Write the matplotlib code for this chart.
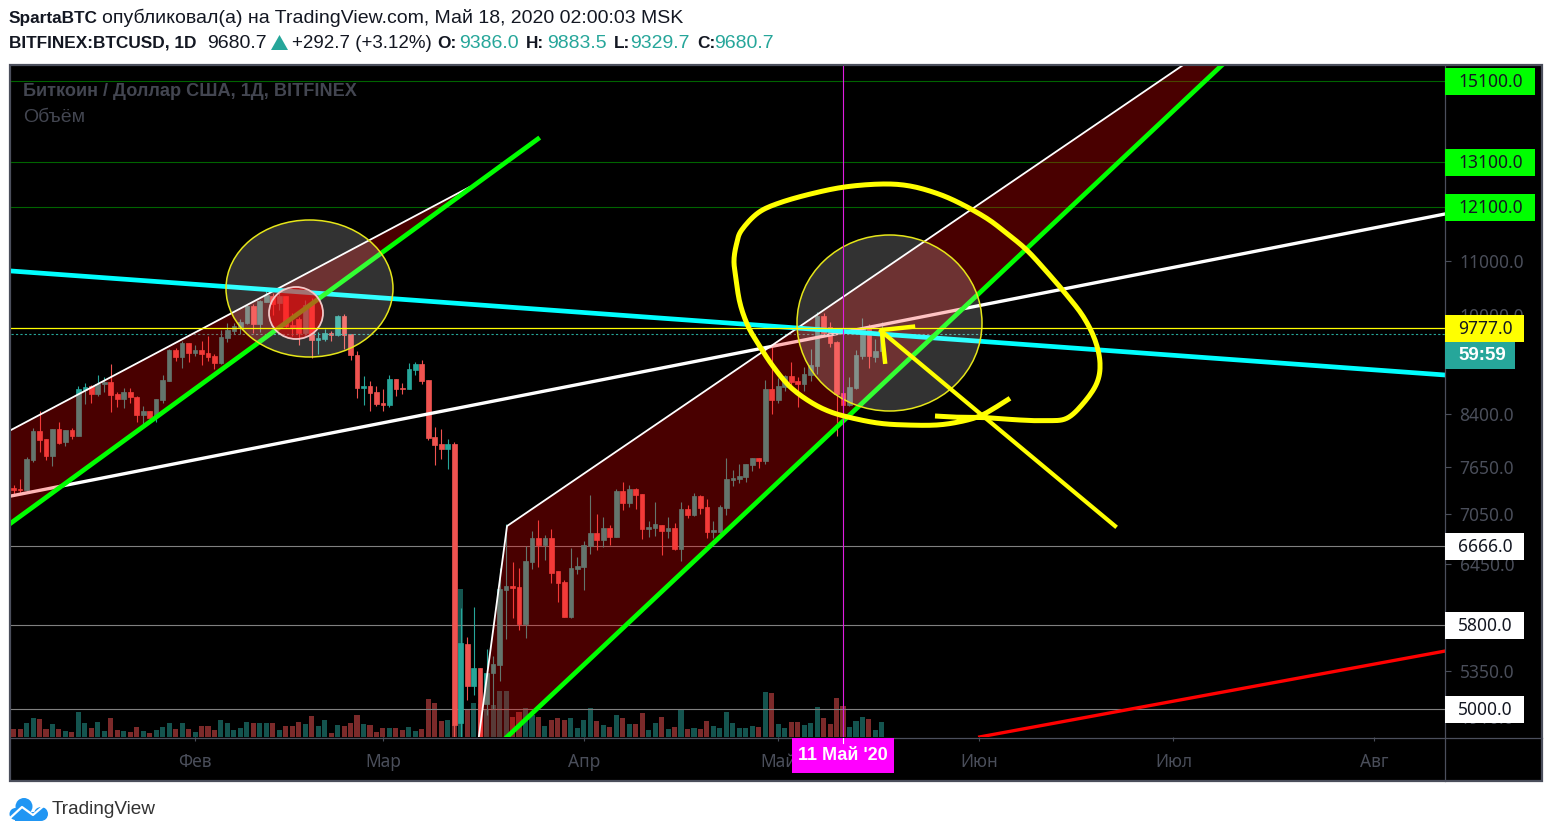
# -*- coding: utf-8 -*-
import numpy as np
import matplotlib
matplotlib.use('Agg')
import matplotlib.pyplot as plt
from matplotlib.patches import Rectangle, Ellipse, Polygon, Circle
from matplotlib.lines import Line2D
from matplotlib.transforms import Affine2D, IdentityTransform

# BTCUSD daily candles, day number counted from 1 Feb 2020
days = np.arange(-28, 107)
opens = [7376, 7367, 7350, 7748, 8155, 8041, 7806, 8184, 7998, 8169,
         8084, 8766, 8829, 8704, 8860, 8891, 8704, 8628, 8735, 8658,
         8388, 8447, 8364, 8612, 8906, 9407, 9291, 9523,
         9357, 9407, 9357, 9307, 9193, 9608, 9727, 9795, 9865, 10165,
         9848, 10237, 10343, 10213, 10343, 9830, 9934, 9687, 10195, 9574,
         9585, 9693, 9659, 9986, 9676, 9323, 8797, 8829, 8735, 8568,
         8537, 8938, 8797, 8782, 9081, 9177, 8922, 8070, 7972, 7902,
         7972, 4879, 5610, 5207, 5378, 5042, 5328, 5404, 6164, 6208,
         6197, 5806, 6479, 6755, 6672, 6755, 6374, 6251, 5881, 6397,
         6423, 6661, 6815, 6731, 6875, 6767, 7336, 7185, 7364, 7300,
         6863, 6875, 6912, 6839, 6875, 6626, 7110, 7035, 7274, 7135,
         6827, 6832, 7126, 7482, 7495, 7522, 7682, 7778, 7736, 8782,
         8614, 8818, 8986, 8907, 8860, 9002, 9146, 9988, 9790, 9541,
         8721, 8538, 8793, 9308, 9762, 9292, 9386]
highs = [7415, 7502, 7785, 8207, 8447, 8041, 8184, 8281, 8169, 8193,
         8829, 8870, 8844, 9001, 8964, 9177, 8740, 8792, 8792, 8674,
         8522, 8447, 8628, 9001, 9418, 9434, 9562, 9523,
         9489, 9557, 9642, 9340, 9744, 9859, 9859, 9930, 10183, 10201,
         10273, 10486, 10393, 10393, 10343, 10034, 9976, 10273, 10303, 9716,
         9756, 9727, 10004, 10022, 9676, 9390, 8985, 8906, 8829, 8782,
         9001, 8938, 8880, 9193, 9209, 9241, 8922, 8212, 8186, 8043,
         8005, 5968, 5674, 5982, 5378, 5561, 5487, 6404, 6924, 6479,
         6404, 6661, 6835, 6973, 6791, 6863, 6374, 6273, 6634, 6536,
         6720, 7287, 7047, 7010, 6912, 7360, 7456, 7417, 7382, 7300,
         6961, 7198, 6912, 7014, 6937, 7198, 7160, 7308, 7287, 7236,
         6961, 7165, 7773, 7614, 7696, 7696, 7778, 7778, 8923, 9463,
         8950, 8997, 9211, 8965, 9135, 9423, 10054, 10036, 9888, 9558,
         8726, 8976, 9407, 9947, 9846, 9590, 9883.5]
lows = [7306, 7315, 7336, 7725, 7863, 7748, 7672, 7979, 7942, 8036,
        8084, 8552, 8563, 8674, 8740, 8433, 8502, 8492, 8563, 8281,
        8242, 8330, 8281, 8571, 8900, 9225, 9110, 9209,
        9307, 9161, 9225, 9097, 9177, 9545, 9676, 9676, 9848, 9687,
        9716, 10237, 9996, 10093, 9801, 9642, 9489, 9659, 9280, 9340,
        9557, 9557, 9642, 9423, 9241, 8642, 8537, 8447, 8522, 8447,
        8507, 8674, 8704, 8782, 9001, 8860, 8027, 7680, 7764, 7629,
        3850, 4600, 5078, 5122, 4700, 4946, 5004, 5253, 5654, 5871,
        5751, 5667, 6397, 6423, 6498, 6244, 6039, 5878, 5871, 6344,
        6164, 6568, 6614, 6653, 6672, 6767, 7097, 7135, 7110, 6743,
        6767, 6783, 6557, 6755, 6614, 6487, 6998, 7022, 7047, 6755,
        6751, 6812, 7035, 7407, 7447, 7460, 7601, 7645, 7696, 8404,
        8563, 8752, 8767, 8508, 8752, 8913, 9018, 9659, 9463, 8089,
        8315, 8523, 8782, 9259, 9113, 9216, 9329.7]
closes = [7350, 7350, 7762, 8155, 8027, 7806, 8184, 7993, 8169, 8084,
          8782, 8813, 8704, 8860, 8891, 8689, 8628, 8735, 8658, 8388,
          8447, 8344, 8628, 8922, 9407, 9291, 9523, 9357,
          9407, 9340, 9291, 9193, 9625, 9744, 9813, 9883, 10165, 9848,
          10255, 10362, 10195, 10343, 9813, 9801, 9687, 10183, 9574, 9608,
          9693, 9659, 9986, 9659, 9323, 8797, 8829, 8719, 8552, 8537,
          8938, 8782, 8782, 9097, 9177, 8906, 8055, 7956, 7902, 7972,
          4858, 5620, 5207, 5378, 4754, 5331, 5410, 6175, 6208, 6186,
          5806, 6487, 6755, 6672, 6755, 6355, 6244, 5881, 6408, 6430,
          6672, 6815, 6731, 6875, 6767, 7336, 7185, 7364, 7287, 6863,
          6887, 6924, 6839, 6875, 6626, 7110, 7035, 7274, 7122, 6827,
          6851, 7139, 7495, 7509, 7535, 7696, 7778, 7736, 8782, 8614,
          8829, 8986, 8892, 8865, 9018, 9162, 9988, 9687, 9530, 8706,
          8538, 8808, 9324, 9790, 9308, 9390, 9680.7]
volumes = [25, 25, 43, 58, 55, 25, 40, 25, 19, 16,
           76, 43, 28, 46, 19, 58, 22, 19, 16, 31,
           19, 13, 22, 31, 43, 25, 43, 25, 16, 34,
           34, 22, 52, 43, 22, 28, 46, 43, 43, 43,
           43, 22, 34, 34, 46, 40, 64, 34, 52, 13,
           37, 34, 43, 67, 40, 37, 16, 28, 28, 28,
           22, 31, 19, 25, 115, 103, 49, 52,
           37, 445, 85, 103, 100, 85, 97, 139, 139, 61,
           76, 88, 67, 61, 34, 52, 58, 52, 58, 28,
           52, 88, 49, 37, 31, 67, 58, 40, 40, 73,
           22, 43, 61, 25, 31, 82, 25, 28, 25, 49,
           34, 28, 76, 43, 28, 28, 34, 31, 136, 133,
           40, 28, 46, 46, 37, 43, 91, 58, 40, 118,
           94, 31, 49, 61, 55, 22, 46]

month_days = [0, 29, 60, 90, 121, 151, 182]
month_labels = ['Фев', 'Мар', 'Апр', 'Май', 'Июн', 'Июл', 'Авг']
axis_prices = [11000, 10000, 8400, 7650, 7050, 6450, 5350]
green_levels = [15100, 13100, 12100]
white_levels = [6666, 5800, 5000]
yellow_level = 9777
last_price = 9680.7

# trend lines, day / price
cyan_days = [-28.4, 192.9]
cyan_prices = [10811, 9002]
white_days = [-28.4, 192.9]
white_prices = [7275, 11952]
red_days = [121.1, 192.9]
red_prices = [4760, 5537]
green1_days = [-28.4, 52.9]
green1_prices = [6937, 13639]
green2_days = [48.15, 158.5]
green2_prices = [4760, 15537]
chan1_days = [-28.4, 42.4, -28.4]
chan1_prices = [8171, 12534, 6937]
chan2_days = [43.8, 48.15, 152.5, 158.5, 48.15]
chan2_prices = [4760, 6900, 15537, 15537, 4760]

# hand drawn marks, in picture pixels
loop_x = [1010, 996.7, 980, 960, 936.7, 906.7, 880, 853.3, 830, 810, 790, 773.3, 760, 748.3,
          740, 735.7, 734, 736.7, 741.7, 758.3, 780, 813.3, 846.7, 883.3, 910, 936.7, 960,
          986.7, 1006.7, 1026.7, 1046.7, 1066.7, 1083.3, 1095, 1100, 1096.7, 1083.3, 1066.7,
          1046.7, 1020, 986.7, 960, 935]
loop_y = [398.3, 406.7, 416, 421.7, 425, 425, 423.3, 418.3, 411.7, 401.7, 386.7, 366.7, 346.7,
          326.7, 303.3, 276.7, 260, 243.3, 230, 212.7, 202.7, 193.3, 186.7, 184, 186, 193.3,
          203.3, 218.3, 233.3, 250, 271.7, 295, 316.7, 340, 363.3, 383.3, 403.3, 418.3, 420.7,
          420, 417.7, 417.3, 416]
arrow_x = [1115, 881]
arrow_y = [526, 331]
head_x = [913, 881.7, 885]
head_y = [326.7, 330, 361.7]

FONT = 'Noto Sans'
HEAD_FONT = 'Liberation Sans'
AXIS_GREY = '#4a4e5a'
FRAME = '#4b4f5c'
UP = '#26a69a'
DOWN = '#ef5350'
BOLD_SIZE = 12.4
TEXT_SIZE = 14


def smooth(xs, ys, steps=8):
    # rounds off the corners of a hand drawn stroke (Catmull-Rom)
    p = np.column_stack([xs, ys])
    p = np.vstack([p[0], p, p[-1]])
    out = []
    for i in range(1, len(p) - 2):
        for t in np.linspace(0, 1, steps, endpoint=False):
            out.append(0.5 * (2 * p[i] + (p[i + 1] - p[i - 1]) * t
                              + (2 * p[i - 1] - 5 * p[i] + 4 * p[i + 1] - p[i + 2]) * t ** 2
                              + (3 * p[i] - p[i - 1] - 3 * p[i + 1] + p[i + 2]) * t ** 3))
    out.append(p[-1])
    out = np.array(out)
    return out[:, 0], out[:, 1]


def label_box(fig, ax, price, text, bg, fg, width):
    y = ax.transData.transform((0, price))[1] - 0.5
    fig.add_artist(Rectangle((1445, y - 13.5), width, 27, transform=IdentityTransform(),
                             fc=bg, ec='none', zorder=5))
    fig.text(1458, y - 0.5, text, transform=IdentityTransform(), color=fg, fontsize=12.5,
             family=FONT, va='center', ha='left', zorder=6)


def header_text(fig, px, x, y, text, color='#131722', bold=False, size=None):
    if size is None:
        size = BOLD_SIZE if bold else TEXT_SIZE
    fig.text(x, y, text, transform=px, color=color, fontsize=size, family=HEAD_FONT,
             va='center', ha='left', fontweight='bold' if bold else 'normal')


def main():
    fig = plt.figure(figsize=(15.52, 8.36), dpi=100, facecolor='white')
    # picture pixels, y going down
    px = Affine2D().scale(1, -1).translate(0, 836)

    fig.add_artist(Rectangle((10, 65), 1532, 716, transform=px, fc='black', ec=FRAME,
                             lw=1.6, zorder=-1))

    pos = [11 / 1552, (836 - 737) / 836, 1434 / 1552, 671 / 836]
    ax_vol = fig.add_axes(pos, zorder=1, facecolor='black')
    ax = fig.add_axes(pos, zorder=2, facecolor='none')

    opn = np.array(opens)
    cls = np.array(closes)
    up = cls >= opn
    colors = np.where(up, UP, DOWN)
    vol_colors = np.where(up, '#14544f', '#7c2a2a')

    ax_vol.bar(days, volumes, width=0.78, color=vol_colors)
    ax_vol.set_xlim(-28.4, 192.9)
    ax_vol.set_ylim(0, 2013)
    ax_vol.axis('off')

    ax.set_yscale('log')
    ax.set_xlim(-28.4, 192.9)
    ax.set_ylim(4759.5, 15509)

    # levels
    for lv in green_levels:
        ax.axhline(lv, color='#006400', lw=0.8, zorder=1)
    for lv in white_levels:
        ax.axhline(lv, color='#808080', lw=0.8, zorder=1)

    # candles
    ax.vlines(days, lows, highs, colors=colors, lw=0.8, zorder=2)
    bottoms = np.minimum(opn, cls)
    heights = np.abs(cls - opn)
    ax.bar(days, heights, bottom=bottoms, width=0.72, color=colors, edgecolor=colors,
           lw=0.5, zorder=2.5)

    ax.plot(white_days, white_prices, color='white', lw=2.4, zorder=3)
    ax.axhline(last_price, color=UP, lw=0.8, ls=(0, (2, 2)), zorder=3)

    # channels on top of the candles
    ax.fill(chan1_days, chan1_prices, color='#ff0000', alpha=0.29, lw=0, zorder=4)
    ax.fill(chan2_days, chan2_prices, color='#ff0000', alpha=0.29, lw=0, zorder=4)

    ax.plot(chan1_days[:2], chan1_prices[:2], color='white', lw=1.3, zorder=5)
    ax.plot(chan2_days[:3], chan2_prices[:3], color='white', lw=1.3, zorder=5)
    ax.plot(cyan_days, cyan_prices, color='#00ffff', lw=3.4, zorder=5)
    ax.plot(green1_days, green1_prices, color='#00ff00', lw=3.4, zorder=5)
    ax.plot(green2_days, green2_prices, color='#00ff00', lw=3.4, zorder=5)
    ax.plot(red_days, red_prices, color='#ff0000', lw=2.4, zorder=5)

    # circles
    ax.add_patch(Ellipse((309.5, 288.5), 167, 137, transform=px, fc=(1, 1, 1, 0.2),
                         ec='#e6e619', lw=1.1, zorder=6))
    ax.add_patch(Ellipse((889.5, 323), 185, 176, transform=px, fc=(1, 1, 1, 0.2),
                         ec='#e6e619', lw=1.1, zorder=6))
    ax.add_patch(Ellipse((296, 313), 54, 52, transform=px, fc=(1, 0, 0, 0.55),
                         ec='#f2c8c8', lw=1.3, zorder=6.5))

    ax.axvline(100, color='#e01ce0', lw=0.8, zorder=7)
    ax.axhline(yellow_level, color='#ffff00', lw=0.9, zorder=9)

    # hand drawn yellow
    sx, sy = smooth(loop_x, loop_y)
    ax.plot(sx, sy, transform=px, color='#ffff00', lw=3.6, solid_joinstyle='round',
            solid_capstyle='butt', zorder=8)
    ax.plot(arrow_x, arrow_y, transform=px, color='#ffff00', lw=3.0, zorder=8)
    ax.plot(head_x, head_y, transform=px, color='#ffff00', lw=3.2, solid_joinstyle='miter',
            zorder=8)

    # axes
    for name in ['top', 'left', 'bottom', 'right']:
        ax.spines[name].set_visible(False)
    ax.yaxis.tick_right()
    ax.minorticks_off()
    ax.set_yticks(axis_prices)
    ax.set_yticklabels(['%.1f' % p for p in axis_prices])
    ax.tick_params(axis='y', which='major', length=4.5, width=0.8, color=AXIS_GREY,
                   labelcolor=AXIS_GREY, labelsize=12.5, pad=6)
    ax.set_xticks(month_days)
    ax.set_xticklabels(month_labels)
    ax.tick_params(axis='x', length=3, width=0.8, color=AXIS_GREY, labelcolor=AXIS_GREY,
                   labelsize=12.5, pad=8.5)
    for t in ax.get_xticklabels() + ax.get_yticklabels():
        t.set_family(FONT)

    fig.add_artist(Line2D([1445, 1445], [66, 781], transform=px, color=FRAME, lw=0.9, zorder=3))
    fig.add_artist(Line2D([11, 1542], [737.5, 737.5], transform=px, color=FRAME, lw=0.9, zorder=3))

    # price labels
    fig.canvas.draw()
    fig.text(1459, 719.5, '1910.0', transform=px, color=AXIS_GREY, fontsize=12.5, family=FONT,
             va='center', ha='left', zorder=4)
    for lv in green_levels:
        label_box(fig, ax, lv, '%.1f' % lv, '#00ff00', '#131722', 90)
    for lv in white_levels:
        label_box(fig, ax, lv, '%.1f' % lv, 'white', '#131722', 79)
    label_box(fig, ax, yellow_level, '%.1f' % yellow_level, '#ffff00', '#131722', 79)
    fig.add_artist(Rectangle((1445, 342), 70, 27, transform=px, fc=UP, ec='none', zorder=5))
    fig.text(1458, 355.5, '59:59', transform=px, color='white', fontsize=13.5, family=HEAD_FONT,
             fontweight='bold', va='center', ha='left', zorder=6)

    # crosshair date
    fig.add_artist(Rectangle((792, 738), 102, 35, transform=px, fc='#ff00ff', ec='none', zorder=5))
    fig.add_artist(Line2D([843, 843], [738, 743], transform=px, color='white', lw=0.8, zorder=6))
    fig.text(843, 755.5, "11 Май '20", transform=px, color='white', fontsize=13, family=HEAD_FONT,
             fontweight='bold', va='center', ha='center', zorder=6)

    # pane titles
    fig.text(23, 91, 'Биткоин / Доллар США, 1Д, BITFINEX', transform=px, color='#434651',
             fontsize=13.1, fontweight='bold', family=HEAD_FONT, va='center', zorder=6)
    fig.text(23, 117, 'Объём', transform=px, color='#434651', fontsize=14, family=HEAD_FONT,
             va='center', zorder=6)

    # header
    header_text(fig, px, 9, 18, 'SpartaBTC', bold=True)
    header_text(fig, px, 102, 18, 'опубликовал(а) на TradingView.com, Май 18, 2020 02:00:03 MSK')
    header_text(fig, px, 9, 43, 'BITFINEX:BTCUSD, 1D', bold=True)
    header_text(fig, px, 207, 43, '9680.7')
    fig.add_artist(Polygon([[271, 50], [288, 50], [279.5, 35]], closed=True, transform=px,
                           fc=UP, ec='none'))
    header_text(fig, px, 292, 43, '+292.7 (+3.12%)', size=13.5)
    header_text(fig, px, 437, 43, 'O:', bold=True)
    header_text(fig, px, 459, 43, '9386.0', color=UP)
    header_text(fig, px, 526, 43, 'H:', bold=True)
    header_text(fig, px, 547, 43, '9883.5', color=UP)
    header_text(fig, px, 614, 43, 'L:', bold=True)
    header_text(fig, px, 630, 43, '9329.7', color=UP)
    header_text(fig, px, 697, 43, 'C:', bold=True)
    header_text(fig, px, 714, 43, '9680.7', color=UP)

    # logo
    blue = '#2196f3'
    fig.add_artist(Circle((24, 806.5), 8.5, transform=px, fc=blue, ec='none'))
    fig.add_artist(Circle((15.5, 814), 6, transform=px, fc=blue, ec='none'))
    fig.add_artist(Circle((41, 814), 7, transform=px, fc=blue, ec='none'))
    fig.add_artist(Rectangle((15, 812), 26, 9, transform=px, fc=blue, ec='none'))
    fig.add_artist(Line2D([9, 22, 33, 47], [819, 807, 815, 803], transform=px, color='white',
                          lw=1.6, zorder=2))
    header_text(fig, px, 52, 809, 'TradingView', color='#333333', size=13.7)

    fig.savefig('out.png', dpi=100, facecolor='white')


if __name__ == "__main__":
    main()
